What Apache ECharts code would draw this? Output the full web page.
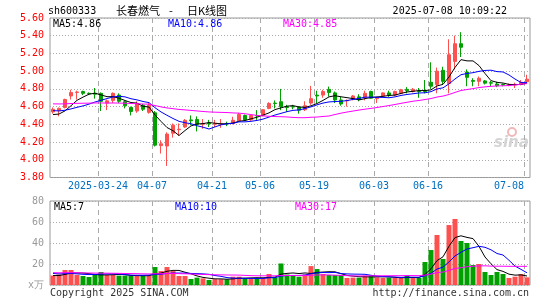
<!DOCTYPE html>
<html><head><meta charset="utf-8">
<script src="https://cdn.jsdelivr.net/npm/echarts@6/dist/echarts.min.js"></script>
<style>html,body{margin:0;padding:0;background:#fff}#c{width:545px;height:300px}</style>
</head><body><div id="c"></div>
<script>
const dates = ['2025-03-12','2025-03-13','2025-03-14','2025-03-17','2025-03-18','2025-03-19','2025-03-20','2025-03-21','2025-03-24','2025-03-25','2025-03-26','2025-03-27','2025-03-28','2025-03-31',
'2025-04-01','2025-04-02','2025-04-03','2025-04-07','2025-04-08','2025-04-09','2025-04-10','2025-04-11','2025-04-14','2025-04-15','2025-04-16','2025-04-17','2025-04-18','2025-04-21','2025-04-22','2025-04-23','2025-04-24','2025-04-25','2025-04-28','2025-04-29','2025-04-30',
'2025-05-06','2025-05-07','2025-05-08','2025-05-09','2025-05-12','2025-05-13','2025-05-14','2025-05-15','2025-05-16','2025-05-19','2025-05-20','2025-05-21','2025-05-22','2025-05-23','2025-05-26','2025-05-27','2025-05-28','2025-05-29','2025-05-30',
'2025-06-03','2025-06-04','2025-06-05','2025-06-06','2025-06-09','2025-06-10','2025-06-11','2025-06-12','2025-06-13','2025-06-16','2025-06-17','2025-06-18','2025-06-19','2025-06-20','2025-06-23','2025-06-24','2025-06-25','2025-06-26','2025-06-27','2025-06-30',
'2025-07-01','2025-07-02','2025-07-03','2025-07-04','2025-07-07','2025-07-08'];
const open  = [4.54,4.555,4.59,4.72,4.76,4.77,4.75,4.75,4.75,4.64,4.67,4.73,4.655,4.59,4.55,4.615,4.535,4.53,4.16,4.155,4.30,4.34,4.37,4.45,4.455,4.40,4.415,4.40,4.40,4.41,4.41,4.44,4.50,4.45,4.50,4.50,4.58,4.64,4.655,4.60,
               4.60,4.595,4.565,4.64,4.73,4.73,4.795,4.755,4.675,4.665,4.685,4.71,4.705,4.77,4.69,4.72,4.755,4.73,4.75,4.795,4.77,4.775,4.78,4.875,4.85,5.01,4.86,5.11,5.31,4.99,4.895,4.885,4.89,4.87,4.855,4.85,4.84,4.845,4.85,4.88];
const close = [4.57,4.58,4.68,4.76,4.765,4.75,4.745,4.74,4.66,4.665,4.75,4.66,4.61,4.545,4.635,4.57,4.615,4.165,4.18,4.29,4.39,4.345,4.445,4.44,4.40,4.41,4.405,4.41,4.405,4.405,4.445,4.51,4.45,4.50,4.495,4.565,4.635,4.635,4.60,4.59,
               4.595,4.56,4.61,4.69,4.72,4.77,4.76,4.675,4.63,4.67,4.72,4.68,4.75,4.695,4.70,4.755,4.73,4.77,4.79,4.78,4.795,4.77,4.77,4.83,5.00,4.885,5.185,5.31,5.27,4.93,4.885,4.92,4.865,4.865,4.835,4.845,4.845,4.85,4.875,4.91];
const low   = [4.52,4.49,4.58,4.68,4.68,4.73,4.73,4.69,4.55,4.56,4.64,4.64,4.58,4.50,4.53,4.55,4.52,4.15,4.07,3.93,4.25,4.27,4.36,4.39,4.32,4.35,4.37,4.37,4.36,4.38,4.40,4.43,4.44,4.44,4.45,4.49,4.57,4.58,4.56,4.54,
               4.57,4.52,4.55,4.62,4.64,4.70,4.713,4.64,4.61,4.60,4.67,4.66,4.67,4.69,4.64,4.71,4.71,4.72,4.74,4.75,4.76,4.70,4.75,4.80,4.75,4.85,4.75,5.02,5.16,4.83,4.83,4.83,4.85,4.83,4.82,4.83,4.83,4.81,4.84,4.87];
const high  = [4.59,4.59,4.69,4.79,4.78,4.78,4.76,4.81,4.76,4.68,4.76,4.75,4.67,4.60,4.66,4.63,4.64,4.55,4.22,4.31,4.41,4.41,4.46,4.50,4.49,4.46,4.45,4.45,4.46,4.43,4.485,4.53,4.51,4.51,4.56,4.57,4.65,4.67,4.80,4.62,
               4.62,4.60,4.66,4.834,4.78,4.79,4.826,4.77,4.71,4.68,4.73,4.74,4.78,4.78,4.71,4.76,4.78,4.78,4.80,4.82,4.81,4.81,4.90,5.10,5.04,5.05,5.36,5.40,5.44,5.02,4.92,4.94,4.90,4.89,4.88,4.86,4.86,4.87,4.90,4.96];
const volume = [9,10,14.3,14.3,9.5,8.6,7.6,10,12.4,9.5,9.5,8.9,8.9,8.9,8.6,8.9,8.9,17.1,13.3,17.1,13.3,8.6,8.6,5.7,7,6.3,4.8,5.5,5.5,5.4,7.9,7.9,6.3,6.3,6.3,7,10.5,7.3,20.5,10,
                8.9,7.9,10,18,15.2,10.5,9.5,9.5,9.5,6.7,7,7,8.9,8.9,7.3,6.7,7,6.7,6.7,8.6,6.7,6.7,21.9,33.3,47.6,24.8,57.1,62.9,41.9,40,19,20,12.4,9.5,12.4,10.5,6.7,7.9,10.5,7.3];
// estimated sessions before the visible window (only used to warm up the moving averages)
const priorClose = [4.62,4.64,4.66,4.70,4.72,4.70,4.68,4.66,4.70,4.72,4.69,4.67,4.65,4.68,4.70,4.66,4.64,4.62,4.65,4.63,4.62,4.60,4.61,4.58,4.59,4.55,4.50,4.47,4.46];
const priorVolume = [12,11,13,12,14,11,12,13,12,11,12,13,11,12,13,12,11,12,13,11,14,13,12,13,13,10,9,8,9];
const priceTicks = [3.8, 5.6, 0.2];
const volTicks = [0, 80, 20];
const labelIdx = [8,17,27,35,44,54,63,79];

const RED = '#ff5050', GREEN = '#00a000';
const MONO = 'DejaVu Sans Mono';

function ma(vals, prior, n) {
  const all = prior.concat(vals);
  return vals.map((_, i) => {
    let s = 0;
    for (let k = 0; k < n; k++) s += all[prior.length + i - k];
    return +(s / n).toFixed(3);
  });
}

const kData = dates.map((d, i) => [open[i], close[i], low[i], high[i]]);
const volData = volume.map((v, i) => ({ value: v, itemStyle: { color: close[i] >= open[i] ? RED : GREEN } }));

const chart = echarts.init(document.getElementById('c'), null, { renderer: 'canvas' });
const pick = (i) => labelIdx.indexOf(i) >= 0;
const hsplit = { show: true, lineStyle: { color: '#aaa', type: [1, 2], width: 1 } };
const lineS = (name, data, color, x, y) => ({ name, type: 'line', data, xAxisIndex: x, yAxisIndex: y, symbol: 'none', smooth: false,
  lineStyle: { width: 1, color }, z: 5, silent: true });

const txt = (x, y, text, color, extra) => ({ type: 'text', x, y, z: 10, style: Object.assign({ text, fill: color, font: '10px ' + MONO, textVerticalAlign: 'middle' }, extra || {}) });
const CJK = '11px "Noto Sans CJK SC"';

chart.setOption({
  animation: false,
  backgroundColor: '#fff',
  grid: [
    { left: 50, top: 18, width: 480, height: 159.5, show: true, borderColor: '#999', borderWidth: 1, backgroundColor: 'transparent' },
    { left: 50, top: 201, width: 480, height: 84, show: true, borderColor: '#999', borderWidth: 1, backgroundColor: 'transparent' }
  ],
  xAxis: [
    { type: 'category', data: dates, gridIndex: 0, boundaryGap: true,
      axisLine: { show: false }, axisTick: { show: false }, splitLine: { show: false },
      axisLabel: { interval: pick, color: '#0070c0', fontFamily: MONO, fontSize: 10, margin: 4,
        padding: [0, 6, 0, 0],
        formatter: (v, i) => i === 8 ? v : (i === 79 ? '{last|' + v.slice(5) + '}' : v.slice(5)),
        rich: { last: { color: '#0070c0', fontFamily: MONO, fontSize: 10, padding: [0, 30, 0, 0] } } } },
    { type: 'category', data: dates, gridIndex: 1, boundaryGap: true,
      axisLine: { show: false }, axisTick: { show: false }, axisLabel: { show: false }, splitLine: { show: false } }
  ],
  yAxis: [
    { type: 'value', gridIndex: 0, min: priceTicks[0], max: priceTicks[1], interval: priceTicks[2],
      axisLine: { show: false }, axisTick: { show: false }, splitLine: hsplit,
      axisLabel: { color: '#ff0000', fontFamily: MONO, fontSize: 10, margin: 6, formatter: (v) => v.toFixed(2) } },
    { type: 'value', gridIndex: 1, min: volTicks[0], max: volTicks[1], interval: volTicks[2],
      axisLine: { show: false }, axisTick: { show: false }, splitLine: hsplit,
      axisLabel: { color: '#999', fontFamily: MONO, fontSize: 10, margin: 6, formatter: (v) => v === 0 ? 'x万' : String(v) } }
  ],
  series: [
    { type: 'candlestick', data: kData, xAxisIndex: 0, yAxisIndex: 0, barWidth: 4,
      itemStyle: { color: RED, color0: GREEN, borderColor: RED, borderColor0: GREEN, borderWidth: 1 }, z: 2 },
    lineS('MA5', ma(close, priorClose, 5), '#000000', 0, 0),
    lineS('MA10', ma(close, priorClose, 10), '#0000ff', 0, 0),
    lineS('MA30', ma(close, priorClose, 30), '#ff00ff', 0, 0),
    { type: 'bar', data: volData, xAxisIndex: 1, yAxisIndex: 1, barWidth: 5, z: 2 },
    lineS('VMA5', ma(volume, priorVolume, 5), '#000000', 1, 1),
    lineS('VMA10', ma(volume, priorVolume, 10), '#0000ff', 1, 1),
    lineS('VMA30', ma(volume, priorVolume, 30), '#ff00ff', 1, 1)
  ]
});

// vertical dashed separators at the left boundary of each labelled session, located through the category axes;
// each dash is a 1px-wide rect
const sepEls = [];
[[0, 0, priceTicks], [1, 1, volTicks]].forEach(([xi, yi, t]) => {
  const yTop = chart.convertToPixel({ yAxisIndex: yi }, t[1]);
  const yBot = chart.convertToPixel({ yAxisIndex: yi }, t[0]);
  labelIdx.forEach((i) => {
    const c = chart.convertToPixel({ xAxisIndex: xi }, dates[i]);
    const p = chart.convertToPixel({ xAxisIndex: xi }, dates[i - 1]);
    const x = Math.round((c + p) / 2);
    for (let y = Math.round(yTop); y < yBot; y += 9) {
      sepEls.push({ type: 'rect', silent: true, z: 1,
        shape: { x: x, y: y, width: 1, height: Math.min(5, yBot - y) },
        style: { fill: '#aaa' } });
    }
  });
});

chart.setOption({
  graphic: { elements: sepEls.concat([
    txt(48, 11, 'sh600333', '#000'),
    txt(116, 11, '长春燃气', '#000', { font: CJK }),
    txt(169, 11, '-', '#000', { font: CJK }),
    txt(187, 11, '日K线图', '#000', { font: CJK }),
    txt(507, 11, '2025-07-08 10:09:22', '#000', { textAlign: 'right' }),
    txt(53, 24, 'MA5:4.86', '#000'),
    txt(168, 24, 'MA10:4.86', '#0000ff'),
    txt(283, 24, 'MA30:4.85', '#ff00ff'),
    txt(54, 207, 'MA5:7', '#000'),
    txt(175, 207, 'MA10:10', '#0000ff'),
    txt(295, 207, 'MA30:17', '#ff00ff'),
    txt(50, 293, 'Copyright 2025 SINA.COM', '#333'),
    txt(529, 293, 'http://finance.sina.com.cn', '#333', { textAlign: 'right' }),
    { type: 'text', x: 494, y: 143, z: 0, style: { text: 'sina', fill: '#d4d4d4', font: 'italic bold 15px "DejaVu Sans"', textVerticalAlign: 'middle' } },
    { type: 'circle', shape: { cx: 512, cy: 132, r: 4 }, z: 0, style: { fill: 'none', stroke: '#f0b8b8', lineWidth: 2 } }
  ]) }
});
</script></body></html>
